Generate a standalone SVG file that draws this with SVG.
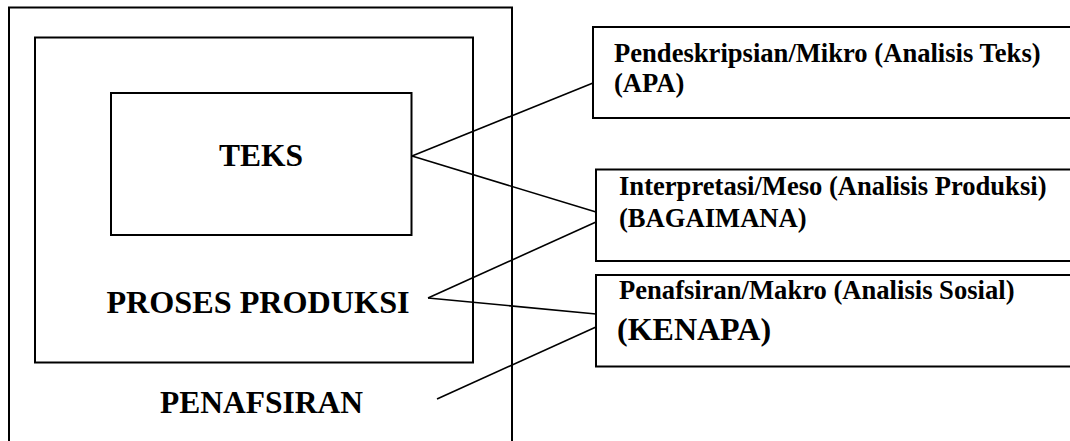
<svg xmlns="http://www.w3.org/2000/svg" width="1070" height="441" viewBox="0 0 1070 441">
<style>
.box{fill:none;stroke:#000;stroke-width:2}
.lbl{font-family:"Liberation Serif","Times New Roman",serif;font-weight:bold;fill:#000}
.big{font-size:31.5px;text-anchor:middle}
.sm{font-size:26.6px}
.conn line{stroke:#000;stroke-width:1.6}
</style>
<rect width="1070" height="441" fill="#fff"/>
<g id="penafsiran">
<rect class="box" x="9" y="7.5" width="503" height="450"/>
<text class="lbl big" x="261.5" y="413">PENAFSIRAN</text>
</g>
<g id="proses-produksi">
<rect class="box" x="35" y="37.5" width="438" height="325"/>
<text class="lbl big" x="258" y="313" style="font-size:32.2px">PROSES PRODUKSI</text>
</g>
<g id="teks">
<rect class="box" x="111" y="93" width="300.5" height="142"/>
<text class="lbl big" x="261" y="166">TEKS</text>
</g>
<g id="mikro">
<rect class="box" x="593" y="27" width="490" height="91"/>
<text class="lbl sm" x="614" y="61.5">Pendeskripsian/Mikro (Analisis Teks)</text>
<text class="lbl sm" x="614" y="91.5">(APA)</text>
</g>
<g id="meso">
<rect class="box" x="596" y="169.5" width="490" height="91.5"/>
<text class="lbl sm" x="619" y="195">Interpretasi/Meso (Analisis Produksi)</text>
<text class="lbl sm" x="619" y="226.5">(BAGAIMANA)</text>
</g>
<g id="makro">
<rect class="box" x="596" y="275" width="490" height="91.5"/>
<text class="lbl sm" x="619" y="299">Penafsiran/Makro (Analisis Sosial)</text>
<text class="lbl" x="617" y="340" style="font-size:32px">(KENAPA)</text>
</g>
<g id="connectors" class="conn">
<line x1="412" y1="156" x2="593" y2="83"/>
<line x1="412" y1="156" x2="596" y2="212"/>
<line x1="428" y1="298" x2="596" y2="222"/>
<line x1="428" y1="298" x2="596" y2="314"/>
<line x1="437" y1="399" x2="596" y2="327"/>
</g>
</svg>
